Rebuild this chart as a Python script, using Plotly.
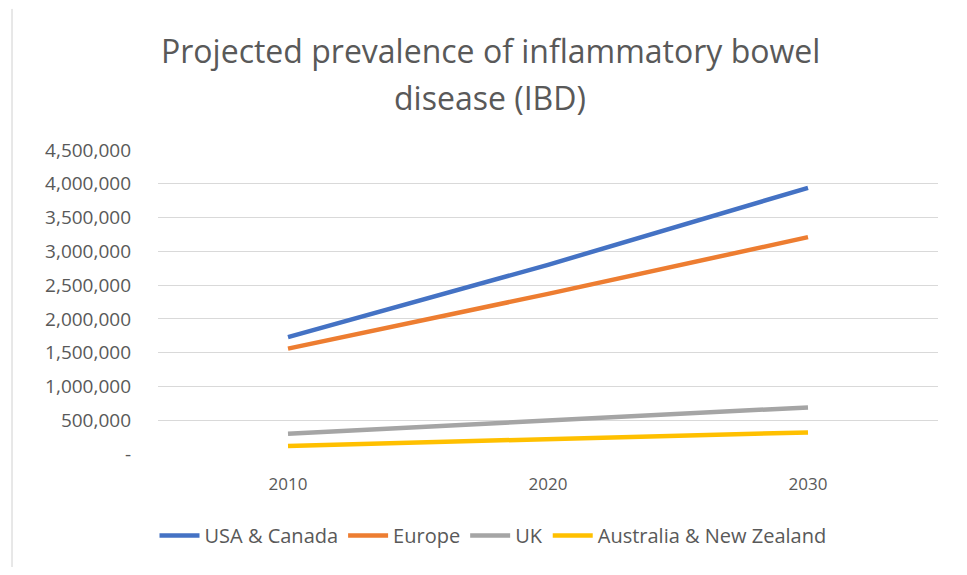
import plotly.graph_objects as go

years = ["2010", "2020", "2030"]
series_names = ["USA & Canada", "Europe", "UK", "Australia & New Zealand"]
usa_canada = [1730000, 2800000, 3940000]
europe = [1560000, 2370000, 3210000]
uk = [300000, 490000, 690000]
aus_nz = [120000, 220000, 320000]
y_tick_vals = [0, 500000, 1000000, 1500000, 2000000, 2500000, 3000000, 3500000, 4000000, 4500000]
y_tick_text = ["-", "500,000", "1,000,000", "1,500,000", "2,000,000", "2,500,000",
               "3,000,000", "3,500,000", "4,000,000", "4,500,000"]
colors = ["#4472C4", "#ED7D31", "#A5A5A5", "#FFC000"]

fig = go.Figure()
for name, vals, c in zip(series_names, [usa_canada, europe, uk, aus_nz], colors):
    fig.add_trace(go.Scatter(x=years, y=vals, name=name, mode="lines",
                             line=dict(color=c, width=4.5)))

OFF = 8  # page body margin
W, H = 967 - 2 * OFF, 575 - 2 * OFF
L, R, T, B = 158 - OFF, 938 - OFF, 150 - OFF, 456 - OFF
pw, ph = R - L, B - T

def px_x(px):
    return (px - OFF - L) / pw

def px_y(py):
    return 1 - (py - OFF - T) / ph

title_font = dict(family="Open Sans", size=32, color="#595959")
fig.add_annotation(text="Projected prevalence of inflammatory bowel", xref="paper", yref="paper",
                   x=px_x(490), y=px_y(50), xanchor="center", yanchor="middle",
                   showarrow=False, font=title_font)
fig.add_annotation(text="disease (IBD)", xref="paper", yref="paper",
                   x=px_x(490), y=px_y(97), xanchor="center", yanchor="middle",
                   showarrow=False, font=title_font)

# chart border (left edge)
fig.add_shape(type="line", xref="paper", yref="paper",
              x0=px_x(12), x1=px_x(12), y0=px_y(8), y1=px_y(575),
              line=dict(color="#d0d0d0", width=1))

fig.update_layout(
    width=W, height=H,
    margin=dict(l=L, r=W - R, t=T, b=H - B, pad=0),
    paper_bgcolor="white", plot_bgcolor="white",
    font=dict(family="Open Sans", color="#595959"),
    showlegend=True,
    legend=dict(orientation="h", x=px_x(493), y=px_y(538), xanchor="center", yanchor="middle",
                font=dict(family="Open Sans", size=20, color="#595959"),
                itemwidth=40, tracegroupgap=0),
    xaxis=dict(type="category", range=[-0.5, 2.5], showgrid=False, zeroline=False,
               showline=False, ticks="", tickfont=dict(size=17, color="#595959"),
               ticklabelstandoff=18),
    yaxis=dict(range=[0, 4500000], tickvals=y_tick_vals, ticktext=y_tick_text,
               showgrid=True, gridcolor="#d9d9d9", gridwidth=1, zeroline=False,
               showline=False, ticks="", tickfont=dict(size=19, color="#595959"),
               ticklabelstandoff=26),
)

fig.write_html("out.html")
